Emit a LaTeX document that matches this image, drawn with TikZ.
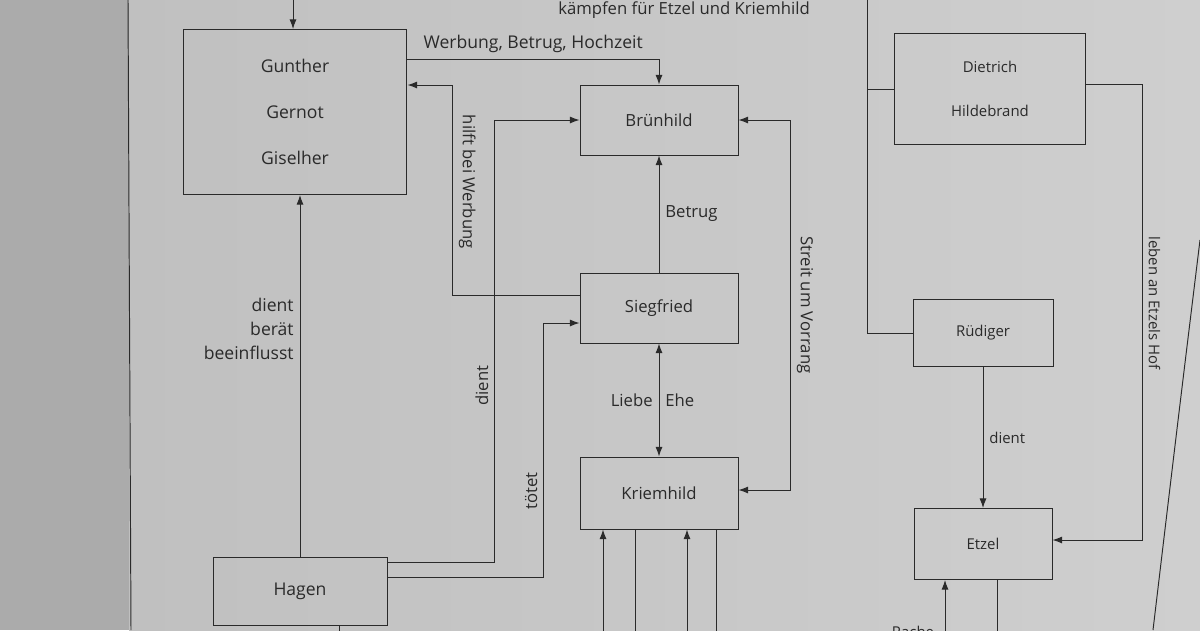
\documentclass[tikz,border=0pt]{standalone}
\usepackage{fontspec}
\setmainfont{Open Sans}
\usetikzlibrary{calc,arrows.meta}
\definecolor{paper}{HTML}{CFCFCF}
\definecolor{paperdark}{HTML}{C0C0C0}
\definecolor{margin}{HTML}{ABABAB}
\definecolor{ink}{HTML}{2A2A2A}
\tikzset{box/.style={rectangle,draw=ink,text=ink,line width=0.55pt,font=\fontsize{9.5}{11.4}\selectfont}}
\tikzset{lbl/.style={text=ink,font=\fontsize{9.5}{11.4}\selectfont}}
\tikzset{far/.style={font=\fontsize{8.5}{10.2}\selectfont}}

\begin{document}
\begin{tikzpicture}[x=0.02cm,y=-0.02cm,>={Latex[length=5.5pt,width=4pt]},color=ink,line width=0.55pt]
        \useasboundingbox (0,0) rectangle (1200,630);
        % page
        \fill[margin] (0,0) rectangle (129,630);
        \shade[left color=paperdark,right color=paper] (129,0) rectangle (1200,630);
        \draw (128,0) -- (131,630);
        \draw (1200,240) .. controls (1178,420) .. (1153,630);

        \node[box,minimum width=4.48cm,minimum height=3.3cm,align=center,font=\fontsize{10}{12}\selectfont] (gunther) at (295,112) {Gunther\\[14pt]Gernot\\[14pt]Giselher};
        \node[box,minimum width=3.16cm,minimum height=1.4cm] (bruenhild) at (659,120) {Brünhild};
        \node[box,minimum width=3.16cm,minimum height=1.4cm] (siegfried) at (659,308) {Siegfried};
        \node[box,minimum width=3.16cm,minimum height=1.44cm] (kriemhild) at (659,493) {Kriemhild};
        \node[box,minimum width=3.48cm,minimum height=1.36cm,font=\fontsize{10}{12}\selectfont] (hagen) at (300,591) {Hagen};
        \node[box,far,minimum width=3.82cm,minimum height=2.22cm,align=center] (dietrich) at (990,89) {Dietrich\\[15pt]Hildebrand};
        \node[box,far,minimum width=2.8cm,minimum height=1.34cm] (ruediger) at (983,333) {Rüdiger};
        \node[box,far,minimum width=2.76cm,minimum height=1.42cm] (etzel) at (983,544) {Etzel};
        \node[lbl] (kaempfen) at (684,10) {kämpfen für Etzel und Kriemhild};

        \coordinate (gtop) at (293,-5);
        \draw [->] (gtop) -- (gtop |- gunther.north);
        \draw [->] ($(gunther.north east)+(0,30)$) -| node[lbl,above,pos=0.25,font=\fontsize{10}{12}\selectfont]{Werbung, Betrug, Hochzeit} (bruenhild.north);
        \draw [->] ($(siegfried.north west)+(0,23)$) -| node[lbl,pos=0.77,anchor=south,rotate=-90]{hilft bei Werbung} ($(gunther.east)+(45,-27)$) -- ($(gunther.east)+(0,-27)$);
        \draw [->] ($(hagen.north east)+(0,6)$) -| node[lbl,pos=0.7,anchor=south,rotate=90]{dient} ($(bruenhild.west)+(-85,0)$) -- (bruenhild.west);
        \draw [->] ($(hagen.north east)+(0,21)$) -| node[lbl,pos=0.67,anchor=south,rotate=90]{tötet} ($(siegfried.west)+(-36,15)$) -- ($(siegfried.west)+(0,15)$);
        \draw [->] (hagen) -- node[lbl,left,align=right,pos=0.63,font=\fontsize{10}{13.6}\selectfont]{dient\\berät\\beeinflusst} (hagen |- gunther.south);
        \draw [->] (siegfried) -- node[lbl,right]{Betrug} (bruenhild);
        \draw [<->] (siegfried) -- node[lbl,left]{Liebe} node[lbl,right]{Ehe} (kriemhild);
        \draw [<->] (bruenhild.east) -| node[lbl,pos=0.75,anchor=south,rotate=-90]{Streit um Vorrang} ($(kriemhild.east)+(52,-3)$) -- ($(kriemhild.east)+(0,-3)$);

        % Etzels Hof
        \coordinate (kampf) at (867,-5);
        \draw (kampf) |- (ruediger.west);
        \draw (dietrich.west) -- (dietrich.west -| kampf);
        \draw [->] ($(dietrich.east)+(0,-5)$) -| node[lbl,far,pos=0.74,anchor=south,rotate=-90]{leben an Etzels Hof} ($(etzel.east)+(90,-4)$) -- ($(etzel.east)+(0,-4)$);
        \draw [->] (ruediger) -- node[lbl,far,right]{dient} (etzel);

        % lines leaving at the bottom
        \coordinate (kb1) at (603,635);
        \coordinate (kb2) at (635,635);
        \coordinate (kb3) at (687,635);
        \coordinate (kb4) at (716,635);
        \draw [->] (kb1) -- (kb1 |- kriemhild.south);
        \draw (kriemhild.south -| kb2) -- (kb2);
        \draw [->] (kb3) -- (kb3 |- kriemhild.south);
        \draw (kriemhild.south -| kb4) -- (kb4);
        \coordinate (eb1) at (945,635);
        \coordinate (eb2) at (997,635);
        \draw [->] (eb1) -- (eb1 |- etzel.south);
        \draw (etzel.south -| eb2) -- (eb2);
        \coordinate (hb) at (339,635);
        \draw (hagen.south -| hb) -- (hb);
        \node[lbl,far,anchor=north] (rache) at (913,620) {Rache};
    \end{tikzpicture}
\end{document}
